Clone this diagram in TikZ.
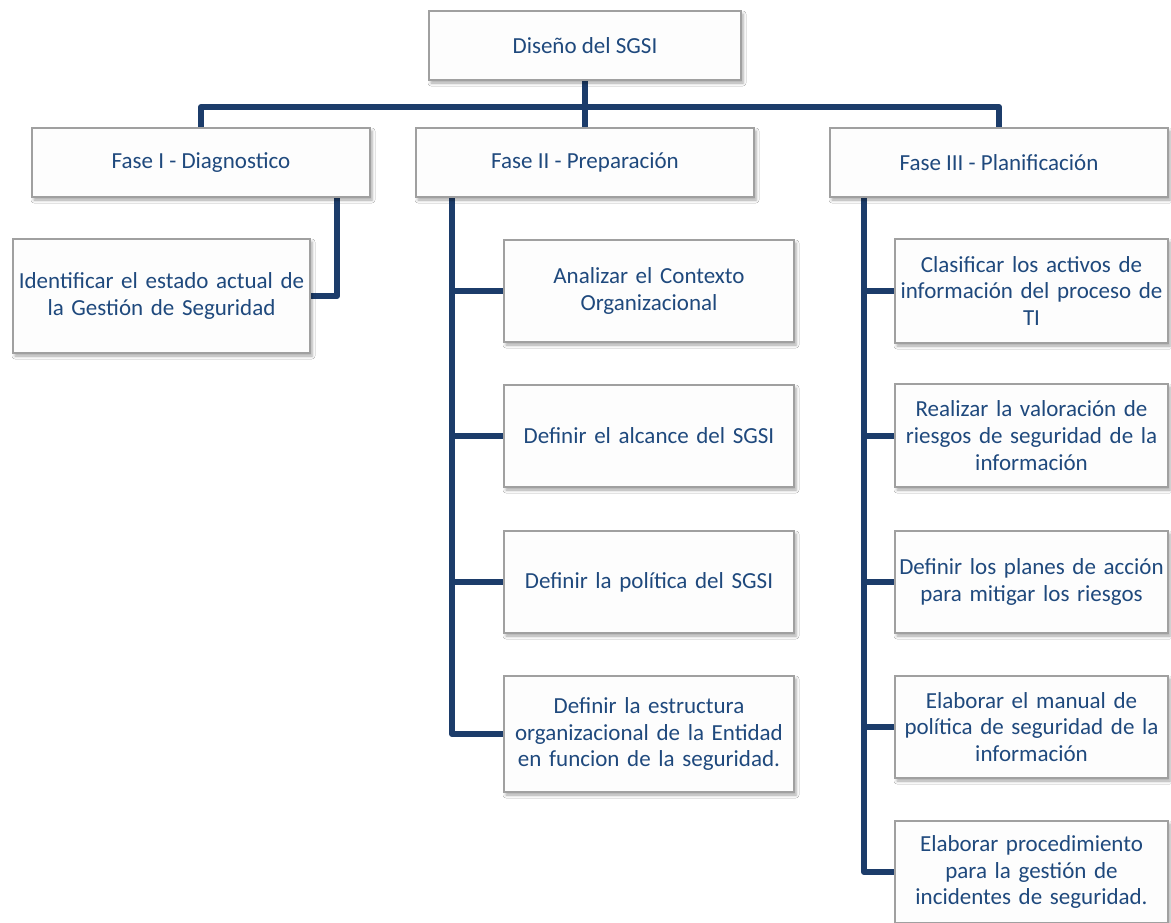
\documentclass[tikz,border=0pt]{standalone}
\usepackage{fontspec}
\setmainfont{Carlito}
\usetikzlibrary{shadows.blur,backgrounds}

\definecolor{txtblue}{RGB}{31,73,125}
\definecolor{linkblue}{RGB}{28,60,106}
\definecolor{edgegray}{RGB}{160,160,160}
\definecolor{boxfill}{RGB}{253,253,253}

\tikzset{
  card/.style={draw=edgegray, line width=1.2pt, fill=boxfill, rectangle,
    inner xsep=0pt, inner ysep=0pt, align=center, text=txtblue,
    font=\fontsize{23}{26.7}\selectfont,
    blur shadow={shadow xshift=2pt, shadow yshift=-3pt, shadow opacity=35, shadow blur radius=3pt}},
  link/.style={draw=linkblue, line width=6pt, line join=round, line cap=butt},
}

\begin{document}
\begin{tikzpicture}[x=1pt,y=-1pt]
  \clip (0,0) rectangle (1171,922);

  % root and phases
  \node[card, minimum width=312pt, minimum height=69pt] (root) at (585,45.5) {Diseño del SGSI};
  \node[card, minimum width=338pt, minimum height=69pt] (f1) at (201,162.5) {Fase I - Diagnostico};
  \node[card, minimum width=338pt, minimum height=69pt] (f2) at (585,162.5) {Fase II - Preparación};
  \node[card, minimum width=338pt, minimum height=69pt] (f3) at (999,162.5) {Fase III - Planificación};

  % phase I task
  \node[card, minimum width=297pt, minimum height=114pt, text width=297pt] (a1) at (161.5,296)
    {Identificar el estado actual de\\la Gestión de Seguridad};

  % phase II tasks
  \node[card, minimum width=290pt, minimum height=102pt, text width=290pt] (b1) at (649,291)
    {Analizar el Contexto\\Organizacional};
  \node[card, minimum width=290pt, minimum height=102pt, text width=290pt] (b2) at (649,436)
    {Definir el alcance del SGSI};
  \node[card, minimum width=290pt, minimum height=102pt, text width=290pt] (b3) at (649,582)
    {Definir la política del SGSI};
  \node[card, minimum width=290pt, minimum height=116pt, text width=290pt] (b4) at (649,734)
    {Definir la estructura\\organizacional de la Entidad\\en funcion de la seguridad.};

  % phase III tasks
  \node[card, minimum width=273pt, minimum height=104pt, text width=273pt] (c1) at (1031.5,291)
    {Clasificar los activos de\\información del proceso de\\TI};
  \node[card, minimum width=273pt, minimum height=103pt, text width=273pt] (c2) at (1031.5,435.5)
    {Realizar la valoración de\\riesgos de seguridad de la\\información};
  \node[card, minimum width=273pt, minimum height=102pt, text width=273pt] (c3) at (1031.5,582)
    {Definir los planes de acción\\para mitigar los riesgos};
  \node[card, minimum width=273pt, minimum height=102pt, text width=273pt] (c4) at (1031.5,727)
    {Elaborar el manual de\\política de seguridad de la\\información};
  \node[card, minimum width=273pt, minimum height=102pt, text width=273pt] (c5) at (1031.5,872)
    {Elaborar procedimiento\\para la gestión de\\incidentes de seguridad.};

  % connectors, drawn behind the cards
  \coordinate (bus) at (585,107);
  \coordinate (s1) at (337,197);
  \coordinate (s2) at (452,197);
  \coordinate (s3) at (864,197);
  \begin{scope}[on background layer]
    \fill[white] (0,0) rectangle (1171,922);
    \draw[link] (root.south) -- (bus);
    \draw[link] (f1.north) |- (bus) -| (f3.north);
    \draw[link] (bus) -- (f2.north);

    \draw[link] (s1) |- (a1.east);

    \draw[link] (s2) |- (b4.west);
    \draw[link] (b1.west) -- (b1.west -| s2);
    \draw[link] (b2.west) -- (b2.west -| s2);
    \draw[link] (b3.west) -- (b3.west -| s2);

    \draw[link] (s3) |- (c5.west);
    \draw[link] (c1.west) -- (c1.west -| s3);
    \draw[link] (c2.west) -- (c2.west -| s3);
    \draw[link] (c3.west) -- (c3.west -| s3);
    \draw[link] (c4.west) -- (c4.west -| s3);
  \end{scope}
\end{tikzpicture}
\end{document}
